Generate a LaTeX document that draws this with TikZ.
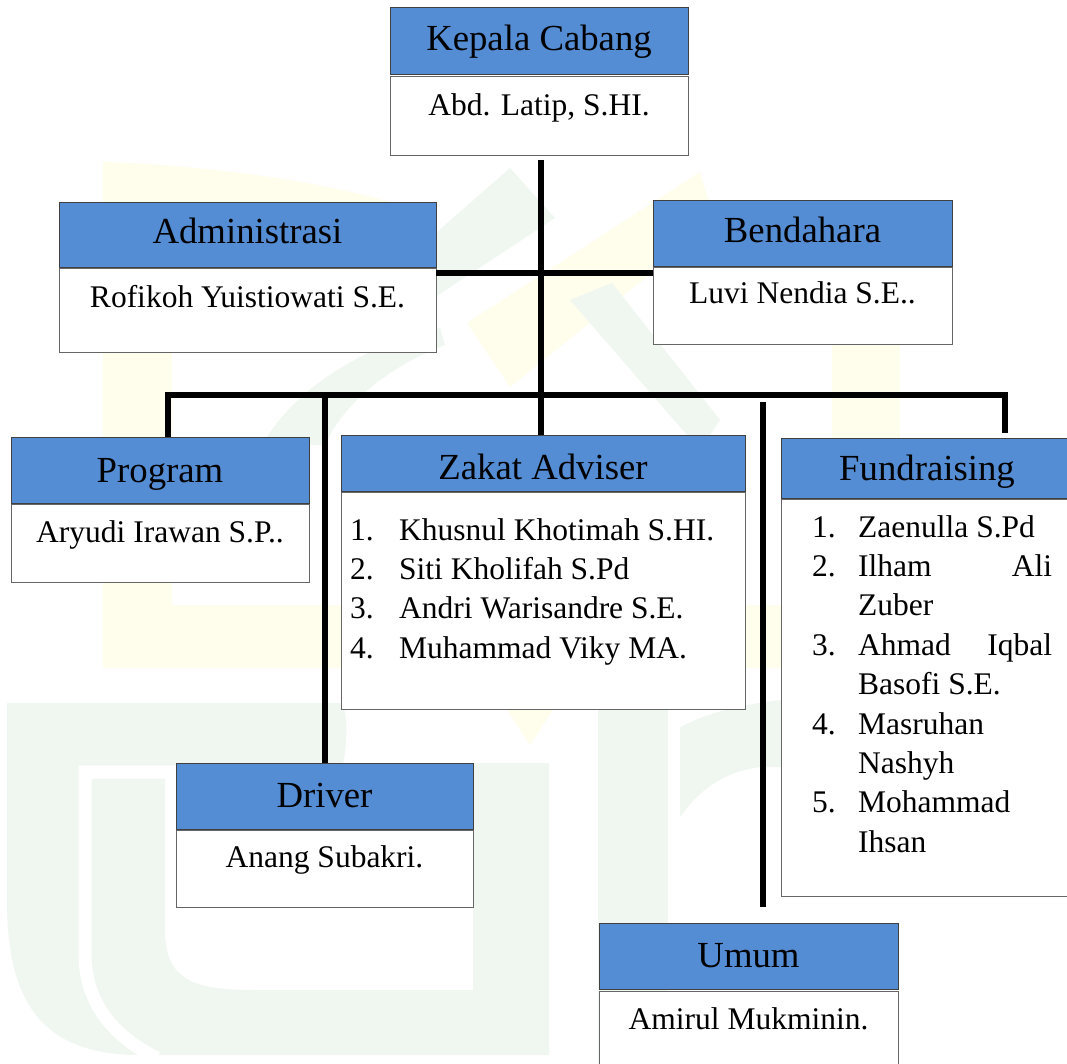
\documentclass[tikz,border=0pt]{standalone}
\usepackage{fontspec}
\setmainfont{Liberation Serif}
\usetikzlibrary{calc}
\definecolor{hdrblue}{RGB}{84,141,212}
\definecolor{wmg}{RGB}{240,247,240}
\definecolor{wmy}{RGB}{255,253,236}
\begin{document}
\begin{tikzpicture}[x=1pt,y=-1pt,
  hdr/.style={draw=black!75,fill=hdrblue,line width=0.9pt,inner sep=0pt,outer sep=0pt,anchor=north west},
  bdy/.style={draw=black!60,fill=white,line width=0.9pt,inner sep=0pt,outer sep=0pt,anchor=north west},
  htxt/.style={anchor=base,inner sep=0pt,font=\fontsize{36.75}{44}\selectfont},
  btxt/.style={anchor=base,inner sep=0pt,font=\fontsize{31.5}{39.4}\selectfont},
  ltxt/.style={anchor=base west,inner sep=0pt,font=\fontsize{31.5}{39.4}\selectfont},
  conn/.style={line width=5.5pt,black,line join=miter}]
\useasboundingbox (0,0) rectangle (1067,1064);
\fill[white] (0,0) rectangle (1067,1064);
% ---- faint watermark ----
\fill[wmy] (103,162) .. controls (200,165) and (320,180) .. (400,205) -- (400,215) -- (172,215) -- (172,605) -- (900,605) -- (900,668) -- (103,668) -- cycle;
\fill[wmy] (832,343) rectangle (900,668);
\fill[wmy] (480,668) -- (580,668) -- (530,745) -- cycle;
\fill[wmy] (467,323) -- (700,172) -- (715,222) -- (510,387) -- cycle;
\fill[wmg] (7,703) -- (342,703) .. controls (350,720) and (345,760) .. (342,767) -- (165,767) -- (165,930) .. controls (165,985) and (200,990) .. (260,990) -- (473,990) -- (473,763) -- (549,763) -- (549,1055) -- (140,1055) .. controls (40,1055) and (7,1000) .. (7,900) -- cycle;
\draw[white,line width=13pt] (342,772) -- (85,772) -- (85,960) .. controls (88,1010) and (120,1040) .. (157,1058);
\fill[wmg] (598,710) rectangle (668,1064);
\fill[wmg] (680,727) .. controls (710,712) and (740,705) .. (781,700) -- (781,767) -- (760,767) .. controls (720,772) and (695,795) .. (680,817) -- cycle;
\fill[wmg] (420,247) -- (510,168) -- (555,218) -- (420,307) -- cycle;
\fill[wmg] (570,300) -- (612,283) -- (720,420) -- (700,450) -- cycle;
\fill[wmg] (262,445) .. controls (285,405) and (330,365) .. (400,340) -- (440,328) -- (445,345) .. controls (380,370) and (340,410) .. (325,445) -- cycle;
% ---- boxes ----
\node[hdr,minimum width=298pt,minimum height=67pt] (kepH) at (390,7) {};
\node[bdy,minimum width=298pt,minimum height=79pt] (kepB) at (390,76) {};
\node[hdr,minimum width=377pt,minimum height=65pt] (admH) at (59,202) {};
\node[bdy,minimum width=377pt,minimum height=84pt] (admB) at (59,268) {};
\node[hdr,minimum width=299pt,minimum height=66pt] (benH) at (653,200) {};
\node[bdy,minimum width=299pt,minimum height=77pt] (benB) at (653,267) {};
\node[hdr,minimum width=298pt,minimum height=66pt] (progH) at (11,437) {};
\node[bdy,minimum width=298pt,minimum height=78pt] (progB) at (11,504) {};
\node[hdr,minimum width=404pt,minimum height=56pt] (zakH) at (341,435) {};
\node[bdy,minimum width=404pt,minimum height=217pt] (zakB) at (341,492) {};
\node[hdr,minimum width=292pt,minimum height=60pt] (fundH) at (781,438) {};
\node[bdy,minimum width=292pt,minimum height=397pt] (fundB) at (781,499) {};
\node[hdr,minimum width=297pt,minimum height=66pt] (drvH) at (176,763) {};
\node[bdy,minimum width=297pt,minimum height=77pt] (drvB) at (176,830) {};
\node[hdr,minimum width=299pt,minimum height=66pt] (umH) at (599,923) {};
\node[bdy,minimum width=299pt,minimum height=90pt] (umB) at (599,991) {};
% ---- texts ----
\node[htxt] (kepT) at (539,51) {Kepala Cabang};
\node[btxt] (kepN) at (539,116) {Abd. Latip, S.HI.};
\node[htxt] (admT) at (247.5,244) {Administrasi};
\node[btxt] (admN) at (247.5,308) {Rofikoh Yuistiowati S.E.};
\node[htxt] (benT) at (802.5,243) {Bendahara};
\node[btxt] (benN) at (802.5,303) {Luvi Nendia S.E..};
\node[htxt] (progT) at (160,482) {Program};
\node[btxt] (progN) at (160,542) {Aryudi Irawan S.P..};
\node[htxt] (zakT) at (543,479) {Zakat Adviser};
\foreach \n/\t [count=\i from 0] in {1./Khusnul Khotimah S.HI., 2./Siti Kholifah S.Pd, 3./Andri Warisandre S.E., 4./Muhammad Viky MA.}{
  \node[ltxt] (zn\i) at (350,540+39.4*\i) {\n};
  \node[ltxt] (zl\i) at (399,540+39.4*\i) {\t};
}
\node[htxt] (fundT) at (927,480) {Fundraising};
\foreach \n/\t [count=\i from 0] in {1./Zaenulla S.Pd, 2./\makebox[194pt][s]{Ilham Ali}, /Zuber, 3./\makebox[194pt][s]{Ahmad Iqbal}, /Basofi S.E., 4./Masruhan, /Nashyh, 5./Mohammad, /Ihsan}{
  \node[ltxt] (fn\i) at (812,537+39.4*\i) {\n};
  \node[ltxt] (fl\i) at (858,537+39.4*\i) {\t};
}
\node[htxt] (drvT) at (324.5,807) {Driver};
\node[btxt] (drvN) at (324.5,867) {Anang Subakri.};
\node[htxt] (umT) at (748.5,967) {Umum};
\node[btxt] (umN) at (748.5,1029) {Amirul Mukminin.};
% ---- connectors ----
\coordinate (sT) at (541,160);
\coordinate (cb) at (541,273);
\coordinate (pdrop) at (168,395);
\coordinate (fdrop) at (1005,395);
\coordinate (fend) at (1005,433);
\coordinate (ddrop) at (325,393);
\coordinate (utop) at (763,402);
\coordinate (ubot) at (763,907);
\draw[conn] (sT) -- (sT |- zakH.north);
\draw[conn] (admB.north east |- cb) -- (benB.north west |- cb);
\draw[conn] (pdrop |- progH.north) -- (pdrop) -- (fdrop) -- (fend);
\draw[conn] (ddrop) -- (ddrop |- drvH.north);
\draw[conn] (utop) -- (ubot);
\end{tikzpicture}
\end{document}
